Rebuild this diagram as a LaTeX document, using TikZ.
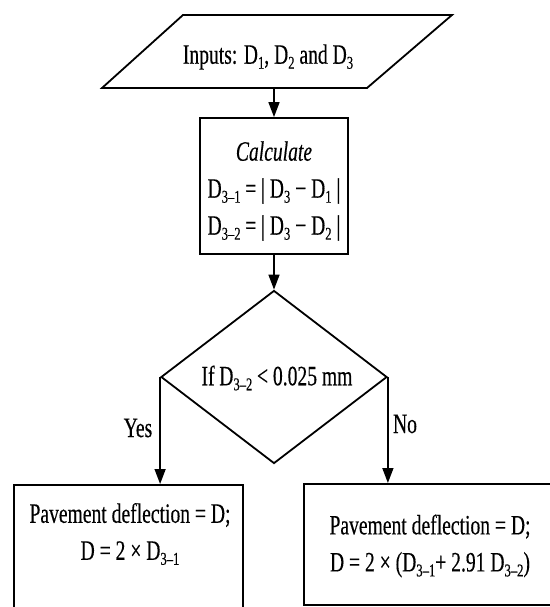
\documentclass[tikz,border=0pt]{standalone}
\usepackage{fontspec}
\setmainfont[FakeStretch=0.70,FakeBold=0.3]{Liberation Serif}
\usetikzlibrary{arrows.meta,shapes.geometric}
\newcommand{\lo}[1]{\raisebox{-5pt}{\fontsize{18}{18}\selectfont #1}}
\begin{document}
\begin{tikzpicture}[x=1pt,y=-1pt,line width=1.8pt,
  box/.style={draw,rectangle,inner sep=0pt},
  txt/.style={align=center,font=\fontsize{28}{37}\selectfont,inner sep=0pt},
  arr/.style={-{Triangle[length=15pt,width=11pt]},line width=1.5pt}]
\useasboundingbox (0,0) rectangle (549,607);
\fill[white] (0,0) rectangle (549,607);

\coordinate (inbl) at (102,88);
\coordinate (intl) at (183,15);
\coordinate (intr) at (452,15);
\coordinate (inbr) at (367,88);
\coordinate (inbot) at (274,88);
\draw[line join=miter] (inbl) -- (intl) -- (intr) -- (inbr) -- cycle;
\node[txt] (intext) at (268,57) {Inputs: D\lo{1}, D\lo{2} and D\lo{3}};

\node[box,minimum width=148pt,minimum height=136pt] (calc) at (274,186) {};
\node[txt] (calctext) at (274,191)
  {\textit{Calculate}\\D\lo{3--1}\,=\,| D\lo{3} − D\lo{1} |\\D\lo{3--2}\,=\,| D\lo{3} − D\lo{2} |};

\node[draw,diamond,shape aspect=1.3,minimum width=226pt,minimum height=173pt] (dec) at (274,377) {};
\node[txt] (dectext) at (277,378) {If\,D\lo{3--2}\,< 0.025 mm};

\node[box,minimum width=229pt,minimum height=131pt,anchor=north west] (lbox) at (13,484) {};
\node[txt] (ltext) at (130,534) {Pavement deflection = D;\\D = 2 × D\lo{3--1}};

\node[box,minimum width=248pt,minimum height=121pt,anchor=north west] (rbox) at (303,483) {};
\node[txt] (rtext) at (430,546) {Pavement deflection = D;\\D = 2 × (D\lo{3--1}+ 2.91 D\lo{3--2})};

\draw[arr] (inbot) -- (calc.north);
\draw[arr] (calc.south) -- (dec.north);
\draw[arr] (dec.west) -- (dec.west |- lbox.north);
\draw[arr] (dec.east) -- (dec.east |- rbox.north);
\node[txt] (yes) at (138,428) {Yes};
\node[txt] (no) at (405,424) {No};
\end{tikzpicture}
\end{document}
